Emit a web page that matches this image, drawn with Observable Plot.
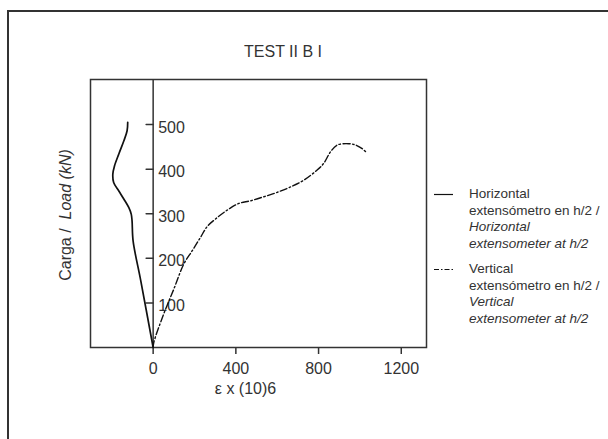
<!DOCTYPE html>
<html>
<head>
<meta charset="utf-8">
<script src="https://cdn.jsdelivr.net/npm/d3@7"></script>
<script src="https://cdn.jsdelivr.net/npm/@observablehq/plot@0.6"></script>
<style>
  html, body { margin: 0; padding: 0; background: #fff; }
  body { font-family: "Liberation Sans", Arial, sans-serif; color: #333; }
  #wrap { position: relative; width: 608px; height: 439px; overflow: hidden; background: #fff; }
  #chart { position: absolute; left: 0; top: 0; }
  #outer { position: absolute; left: 7px; top: 10px; width: 800px; height: 800px; border: 2px solid #333; pointer-events: none; }
  #title { position: absolute; left: 283px; top: 52px; transform: translate(-50%, -50%); font-size: 16px; white-space: nowrap; }
  #ylabel { position: absolute; left: 66px; top: 215px; transform: translate(-50%, -50%) rotate(-90deg); font-size: 16px; white-space: pre; }
  .legend { position: absolute; left: 434px; font-size: 13.5px; line-height: 16.5px; display: flex; align-items: flex-start; }
  .legend svg { display: block; margin-top: 0px; }
  .legend .txt { margin-left: 16px; white-space: nowrap; }
</style>
</head>
<body>
<div id="wrap">
  <div id="chart"></div>
  <div id="title"></div>
  <div id="ylabel"></div>
  <div id="legend"></div>
  <div id="outer"></div>
</div>
<script>
// ---- data ----
const titleText = "TEST II B I";
const xLabel = "ε x (10)6";
const yLabelNormal = "Carga /  ";
const yLabelItalic = "Load (kN)";
const xTicks = [0, 400, 800, 1200];
const yTicks = [100, 200, 300, 400, 500];

// Horizontal extensometer (solid)
const horizStrain = [0, -60, -97, -102, -106, -118, -142, -166, -191, -195, -187, -166, -142, -126, -123];
const horizLoad   = [0, 150, 239, 284, 299, 314, 333, 351, 370, 389, 407, 434, 463, 486, 505];

// Vertical extensometer (dash-dot)
const vertStrain = [0, 3, 51, 100, 148, 189, 229, 261, 301, 358, 414, 471, 535, 600, 664, 728, 793, 825, 858, 890, 946, 979, 1011, 1032];
const vertLoad   = [0, 11, 75, 131, 187, 217, 247, 271, 288, 308, 323, 329, 338, 348, 360, 375, 398, 413, 439, 454, 457, 454, 446, 437];

const legendItems = [
  {dash: null, lines: [["Horizontal", false], ["extensómetro en h/2 /", false], ["Horizontal", true], ["extensometer at h/2", true]]},
  {dash: "5,2,1.5,2", lines: [["Vertical", false], ["extensómetro en h/2 /", false], ["Vertical", true], ["extensometer at h/2", true]]}
];
const legendTops = [186, 261];

// ---- build tables ----
const horiz = horizStrain.map((x, i) => ({x, y: horizLoad[i]}));
const vert = vertStrain.map((x, i) => ({x, y: vertLoad[i]}));

const ink = "#333";
const chart = Plot.plot({
  width: 608,
  height: 439,
  marginLeft: 90,
  marginRight: 182,
  marginTop: 79,
  marginBottom: 92,
  style: {background: "transparent", fontFamily: "Liberation Sans, Arial, sans-serif", fontSize: "16px", color: ink},
  x: {domain: [-303, 1322]},
  y: {domain: [0, 601], axis: null},
  marks: [
    Plot.frame({stroke: ink, strokeWidth: 1.5}),
    Plot.ruleX([0], {stroke: ink, strokeWidth: 1.5}),
    Plot.axisX(xTicks, {tickSize: 7, tickPadding: 8, fontSize: 16, label: null, stroke: ink, strokeWidth: 1.5, fill: ink, tickFormat: d => String(d)}),
    Plot.vector(yTicks, {x: 0, y: d => d, length: 7, rotate: -90, anchor: "start", stroke: ink, strokeWidth: 1.5,
      shape: {draw(ctx, l) { ctx.moveTo(0, 0); ctx.lineTo(0, -l); }}}),
    Plot.text(yTicks, {x: 0, y: d => d, text: d => String(d), textAnchor: "start", dx: 5, dy: 3, fontSize: 16, fill: ink}),
    Plot.text([xLabel], {frameAnchor: "bottom", dx: -13, dy: 46, fontSize: 16, fill: ink}),
    Plot.line(vert, {x: "x", y: "y", stroke: "#111", strokeWidth: 1.4, strokeDasharray: "7,2.5,1.5,2.5", curve: "catmull-rom"}),
    Plot.line(horiz, {x: "x", y: "y", stroke: "#111", strokeWidth: 1.7, curve: "catmull-rom"})
  ]
});
document.getElementById("chart").appendChild(chart);

document.getElementById("title").textContent = titleText;
const yl = document.getElementById("ylabel");
yl.appendChild(document.createTextNode(yLabelNormal));
const it = document.createElement("i"); it.textContent = yLabelItalic; yl.appendChild(it);

const leg = document.getElementById("legend");
legendItems.forEach((item, k) => {
  const row = document.createElement("div");
  row.className = "legend";
  row.style.top = legendTops[k] + "px";
  const svg = d3.create("svg").attr("width", 19).attr("height", 16.5);
  svg.append("line").attr("x1", 0).attr("x2", 19).attr("y1", 8.5).attr("y2", 8.5)
    .attr("stroke", "#111").attr("stroke-width", 1.2)
    .attr("stroke-dasharray", item.dash);
  row.appendChild(svg.node());
  const txt = document.createElement("div");
  txt.className = "txt";
  item.lines.forEach(([s, ital]) => {
    const d = document.createElement("div");
    d.textContent = s;
    if (ital) d.style.fontStyle = "italic";
    txt.appendChild(d);
  });
  row.appendChild(txt);
  leg.appendChild(row);
});
</script>
</body>
</html>
